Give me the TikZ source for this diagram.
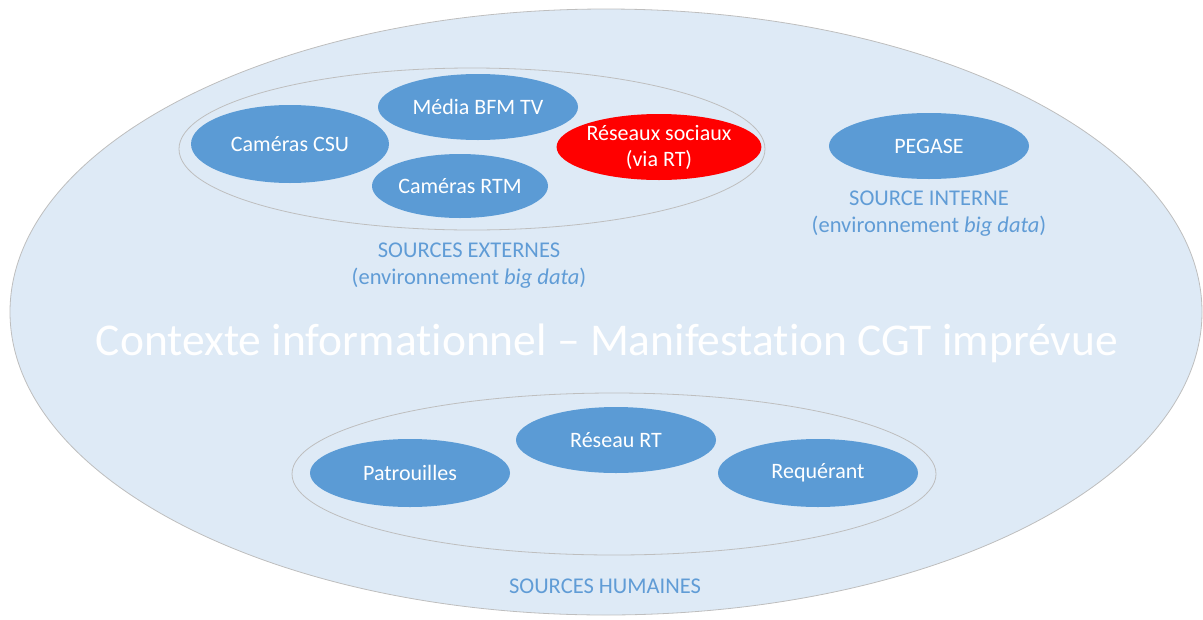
\documentclass[tikz,border=0pt]{standalone}
\usepackage{fontspec}
\setmainfont{Carlito}[Ligatures=NoCommon]
\usetikzlibrary{shapes.geometric}
\definecolor{bgfill}{RGB}{222,234,246}
\definecolor{ringline}{RGB}{190,190,190}
\definecolor{nodefill}{RGB}{91,155,213}
\definecolor{labelcol}{RGB}{96,156,214}
\tikzset{
  x=1pt,y=-1pt,
  srcnode/.style={ellipse, fill=nodefill, draw=none, text=white, inner sep=0pt,
    font=\fontsize{22}{26}\selectfont, align=center},
  redsrc/.style={srcnode, fill=red},
  group/.style={ellipse, fill=bgfill, draw=ringline, line width=0.8pt, inner sep=0pt},
  grouplabel/.style={text=labelcol, font=\fontsize{22.5}{27}\selectfont, align=center, inner sep=0pt},
}
\begin{document}
\begin{tikzpicture}
\useasboundingbox (0,0) rectangle (1203,619);
\node[group, minimum width=1192, minimum height=606] (ctx) at (606,312) {};
\node[text=white, font=\fontsize{45.5}{50}\selectfont, inner sep=0pt] (title) at (607,343) {Contexte informationnel – Manifestation CGT imprévue};
% external sources
\node[group, minimum width=586, minimum height=162] (ext) at (472,149) {};
\node[srcnode, minimum width=198, minimum height=78] (csu) at (290,144) {Caméras CSU};
\node[srcnode, minimum width=200, minimum height=66] (bfm) at (478,107) {Média BFM TV};
\node[srcnode, minimum width=176, minimum height=64] (rtm) at (460,186) {Caméras RTM};
\node[redsrc, minimum width=200, minimum height=66] (rs) at (659,147) {Réseaux sociaux\\(via RT)};
\node[grouplabel] (extlab) at (469,266) {SOURCES EXTERNES\\(environnement \textit{big data})};
% internal source
\node[srcnode, minimum width=200, minimum height=66] (peg) at (929,146) {PEGASE};
\node[grouplabel] (intlab) at (929,214) {SOURCE INTERNE\\(environnement \textit{big data})};
% human sources
\node[group, minimum width=644, minimum height=162] (hum) at (614,474) {};
\node[srcnode, minimum width=200, minimum height=68] (pat) at (410,473) {Patrouilles};
\node[srcnode, minimum width=200, minimum height=66] (rrt) at (616,440) {Réseau RT};
\node[srcnode, minimum width=200, minimum height=68] (req) at (818,473) {Requérant};
\node[grouplabel] (humlab) at (605,586) {SOURCES HUMAINES};
\end{tikzpicture}
\end{document}
